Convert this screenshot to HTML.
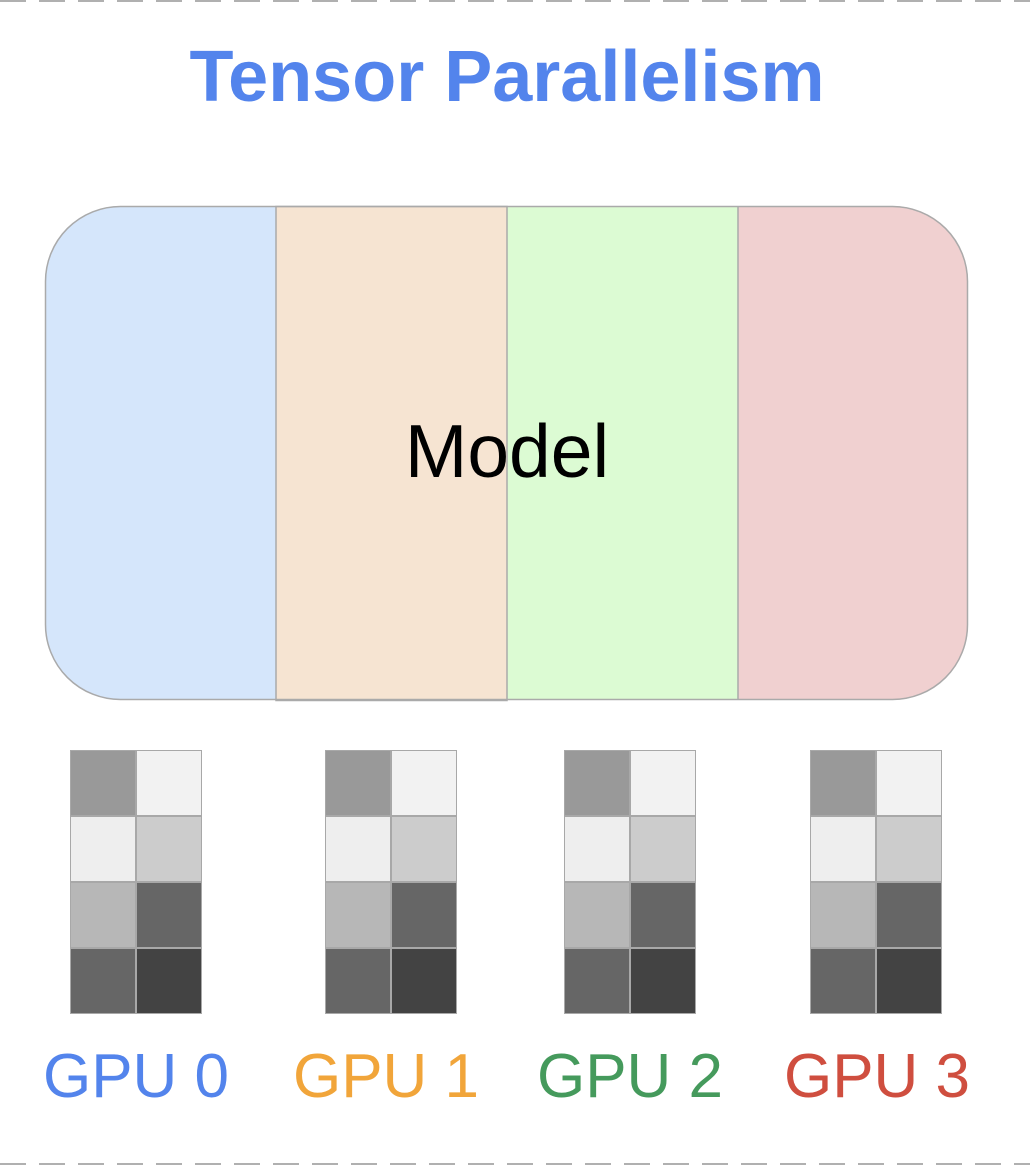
<!DOCTYPE html>
<html><head><style>
body{margin:0;width:1030px;height:1166px;background:#fff;position:relative;overflow:hidden;font-family:"Liberation Sans",sans-serif}
.dash{position:absolute;left:0;width:1030px;height:2px;background:repeating-linear-gradient(90deg,#b0b0b0 0 26px,transparent 26px 39px)}
.t{position:absolute;white-space:nowrap}
.g{position:absolute;top:750px;width:132px;height:264px;display:grid;grid-template-columns:66px 66px;grid-template-rows:repeat(4,66px)}
.g div{box-sizing:border-box;border:1px solid #a8a8a8}
</style></head><body>
<div class="dash" style="top:0"></div>
<div class="dash" style="top:1163px"></div>
<div class="t" style="left:0;width:1014px;text-align:center;top:36px;font-size:72px;font-weight:bold;color:#5384ec">Tensor Parallelism</div>
<svg style="position:absolute;left:0;top:0" width="1030" height="1166">
<defs><clipPath id="c"><rect x="45" y="206" width="923" height="494" rx="75" ry="75"/></clipPath></defs>
<g clip-path="url(#c)">
<rect x="45" y="206" width="231" height="494" fill="#d5e6fb"/>
<rect x="276" y="206" width="231" height="494" fill="#f6e4d2"/>
<rect x="507" y="206" width="231" height="494" fill="#dcfbd3"/>
<rect x="738" y="206" width="230" height="494" fill="#f0d0d0"/>
</g>
<rect x="45.5" y="206.5" width="922" height="493" rx="75" ry="75" fill="none" stroke="#aaa" stroke-width="1.5"/>
<rect x="276" y="206.5" width="231" height="494" fill="none" stroke="#aaa" stroke-width="1.5"/>
<line x1="738" y1="206" x2="738" y2="700" stroke="#aaa" stroke-width="1.5"/>
</svg>
<div class="t" style="left:0;width:1014px;text-align:center;top:408px;font-size:75px;color:#000">Model</div>
<div class="g" style="left:70px"><div style="background:#999"></div><div style="background:#f2f2f2"></div><div style="background:#eee"></div><div style="background:#ccc"></div><div style="background:#b7b7b7"></div><div style="background:#666"></div><div style="background:#666"></div><div style="background:#434343"></div></div>
<div class="g" style="left:325px"><div style="background:#999"></div><div style="background:#f2f2f2"></div><div style="background:#eee"></div><div style="background:#ccc"></div><div style="background:#b7b7b7"></div><div style="background:#666"></div><div style="background:#666"></div><div style="background:#434343"></div></div>
<div class="g" style="left:564px"><div style="background:#999"></div><div style="background:#f2f2f2"></div><div style="background:#eee"></div><div style="background:#ccc"></div><div style="background:#b7b7b7"></div><div style="background:#666"></div><div style="background:#666"></div><div style="background:#434343"></div></div>
<div class="g" style="left:810px"><div style="background:#999"></div><div style="background:#f2f2f2"></div><div style="background:#eee"></div><div style="background:#ccc"></div><div style="background:#b7b7b7"></div><div style="background:#666"></div><div style="background:#666"></div><div style="background:#434343"></div></div>
<div class="t" style="left:36px;width:200px;text-align:center;top:1041px;font-size:62px;color:#5384ec">GPU 0</div>
<div class="t" style="left:286px;width:200px;text-align:center;top:1041px;font-size:62px;color:#f1a53a">GPU 1</div>
<div class="t" style="left:530px;width:200px;text-align:center;top:1041px;font-size:62px;color:#459a5c">GPU 2</div>
<div class="t" style="left:777px;width:200px;text-align:center;top:1041px;font-size:62px;color:#cf4e3f">GPU 3</div>
</body></html>
